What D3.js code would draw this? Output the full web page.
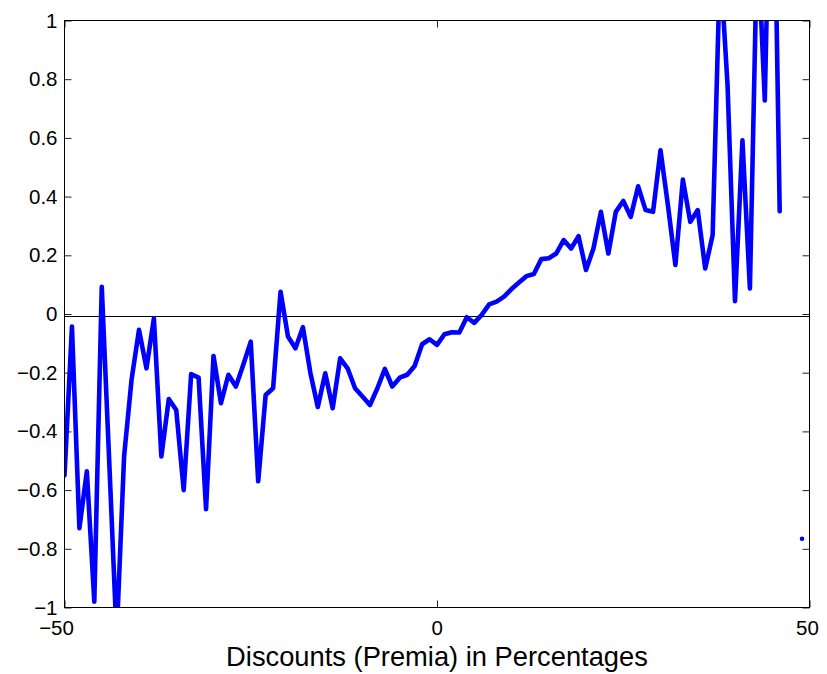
<!DOCTYPE html>
<html>
<head>
<meta charset="utf-8">
<script src="https://cdn.jsdelivr.net/npm/d3@7"></script>
<style>
  html, body { margin: 0; padding: 0; background: #fff; }
  svg { display: block; }
  text { font-family: "Liberation Sans", Arial, Helvetica, sans-serif; fill: #000; }
</style>
</head>
<body>
<svg id="chart" width="827" height="674"></svg>
<script>
// ---- data ----
const xValues = [
  -50,-49,-48,-47,-46,-45,-44,-43,-42,-41,
  -40,-39,-38,-37,-36,-35,-34,-33,-32,-31,
  -30,-29,-28,-27,-26,-25,-24,-23,-22,-21,
  -20,-19,-18,-17,-16,-15,-14,-13,-12,-11,
  -10,-9,-8,-7,-6,-5,-4,-3,-2,-1,
  0,1,2,3,4,5,6,7,8,9,
  10,11,12,13,14,15,16,17,18,19,
  20,21,22,23,24,25,26,27,28,29,
  30,31,32,33,34,35,36,37,38,39,
  40,41,42,43,44,45,46,47,48,49,
  50
];
const yValues = [
  -0.55,-0.043,-0.73,-0.536,-0.98,0.093,-0.5,-1.1,-0.485,-0.224,
  -0.054,-0.185,-0.015,-0.485,-0.29,-0.327,-0.6,-0.205,-0.217,-0.665,
  -0.143,-0.304,-0.207,-0.247,-0.173,-0.094,-0.57,-0.276,-0.253,0.076,
  -0.077,-0.117,-0.045,-0.2,-0.317,-0.202,-0.321,-0.151,-0.185,-0.253,
  -0.281,-0.31,-0.253,-0.187,-0.247,-0.217,-0.207,-0.177,-0.103,-0.086,
  -0.105,-0.069,-0.062,-0.063,-0.011,-0.03,-0.003,0.033,0.042,0.059,
  0.085,0.107,0.129,0.136,0.187,0.19,0.206,0.252,0.223,0.265,
  0.15,0.223,0.348,0.206,0.348,0.385,0.331,0.435,0.354,0.348,
  0.558,0.37,0.167,0.458,0.314,0.354,0.155,0.269,1.2,0.78,
  0.044,0.592,0.087,1.3,0.728,1.9,0.35,null,null,-0.766,
  null
];
const referenceLine = [-0.007];
const xTicks = [-50, 0, 50];
const xTickLabels = ["\u221250", "0", "50"];
const yTicks = [-1, -0.8, -0.6, -0.4, -0.2, 0, 0.2, 0.4, 0.6, 0.8, 1];
const yTickLabels = ["\u22121", "\u22120.8", "\u22120.6", "\u22120.4", "\u22120.2", "0", "0.2", "0.4", "0.6", "0.8", "1"];
const xLabel = "Discounts (Premia) in Percentages";

// ---- layout ----
const svg = d3.select("#chart");
const L = 64.5, R = 809.5, T = 20.5, B = 607.5;
const FONT = '"Liberation Sans", Arial, Helvetica, sans-serif';
const TICKFONT = 20.5;

const x = d3.scaleLinear().domain([-50, 50]).range([L, R]);
const y = d3.scaleLinear().domain([-1, 1]).range([B, T]);

const data = xValues.map((xv, i) => ({ x: xv, y: yValues[i] }));

svg.append("rect").attr("width", 827).attr("height", 674).attr("fill", "#fff");

svg.append("defs").append("clipPath").attr("id", "plotclip")
  .append("rect").attr("x", L).attr("y", T).attr("width", R - L).attr("height", B - T);

// axes with inward ticks
const fmtY = d => yTickLabels[yTicks.indexOf(d)];
const fmtX = d => xTickLabels[xTicks.indexOf(d)];

const gl = svg.append("g").attr("transform", `translate(${L},0)`)
  .call(d3.axisLeft(y).tickValues(yTicks).tickFormat(fmtY).tickSizeInner(-7).tickSizeOuter(0).tickPadding(7));
const gr = svg.append("g").attr("transform", `translate(${R},0)`)
  .call(d3.axisRight(y).tickValues(yTicks).tickFormat("").tickSizeInner(-7).tickSizeOuter(0));
const gb = svg.append("g").attr("transform", `translate(0,${B})`)
  .call(d3.axisBottom(x).tickValues(xTicks).tickFormat(fmtX).tickSizeInner(-7).tickSizeOuter(0).tickPadding(13));
const gt = svg.append("g").attr("transform", `translate(0,${T})`)
  .call(d3.axisTop(x).tickValues(xTicks).tickFormat("").tickSizeInner(-7).tickSizeOuter(0));

[gl, gr, gb, gt].forEach(g => {
  g.select(".domain").remove();
  g.selectAll(".tick line").attr("stroke", "#222").attr("stroke-width", 1);
  g.selectAll(".tick text").style("font-size", TICKFONT + "px").attr("fill", "#000")
    .style("font-family", FONT);
});

// x tick labels: the digits are centred (slightly left of the tick), a minus sign hangs to the left
gb.selectAll(".tick text").each(function(d) {
  const t = d3.select(this);
  const full = this.getComputedTextLength();
  const digits = String(Math.abs(d));
  t.text(digits);
  const dw = this.getComputedTextLength();
  t.text(fmtX(d));
  const shift = d === 0 ? -0.3 : -2.5;
  t.attr("text-anchor", "end").attr("x", dw / 2 + shift);
});

// reference line
svg.append("g").selectAll("line").data(referenceLine).join("line")
  .attr("x1", L).attr("x2", R)
  .attr("y1", d => Math.round(y(d)) + 0.5).attr("y2", d => Math.round(y(d)) + 0.5)
  .attr("stroke", "#000").attr("stroke-width", 1.2);

// data line
const line = d3.line().defined(d => d.y !== null).x(d => x(d.x)).y(d => y(d.y));
const plot = svg.append("g").attr("clip-path", "url(#plotclip)");
plot.append("path").datum(data)
  .attr("d", line)
  .attr("fill", "none")
  .attr("stroke", "#0000ff")
  .attr("stroke-width", 4.6)
  .attr("stroke-linejoin", "round")
  .attr("stroke-linecap", "round");

// isolated points (no defined neighbours)
const isolated = data.filter((d, i) => d.y !== null &&
  (i === 0 || data[i - 1].y === null) && (i === data.length - 1 || data[i + 1].y === null));
plot.selectAll("circle.iso").data(isolated).join("circle")
  .attr("class", "iso")
  .attr("cx", d => x(d.x)).attr("cy", d => y(d.y)).attr("r", 1.7)
  .attr("fill", "#0000ff");

// box
svg.append("rect").attr("x", L).attr("y", T).attr("width", R - L).attr("height", B - T)
  .attr("fill", "none").attr("stroke", "#000").attr("stroke-width", 1);

// x label
svg.append("text").attr("x", (L + R) / 2).attr("y", 666)
  .attr("text-anchor", "middle").style("font-size", "27.3px").text(xLabel);
</script>
</body>
</html>
